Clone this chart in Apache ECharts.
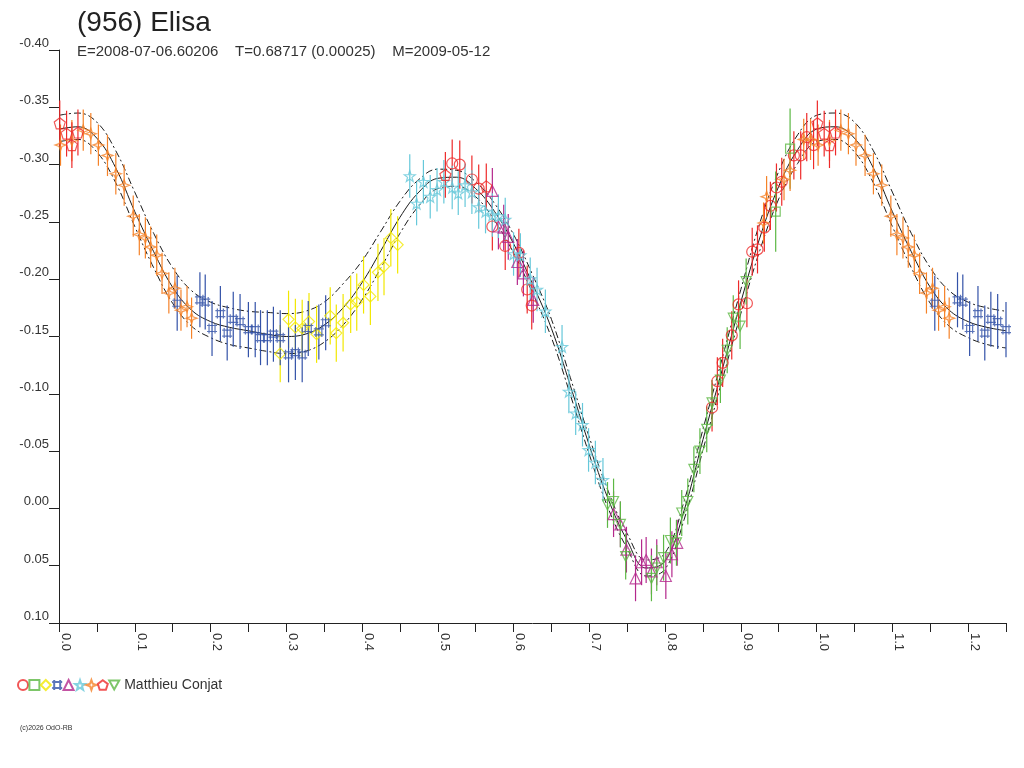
<!DOCTYPE html>
<html>
<head>
<meta charset="utf-8">
<script src="https://cdn.jsdelivr.net/npm/echarts@6/dist/echarts.min.js"></script>
<style>html,body{margin:0;padding:0;background:#fff}#c{width:1024px;height:768px}</style>
</head>
<body>
<div id="c"></div>
<script>
// Fit curve phases and magnitudes
const curvePhase = [0,0.025,0.05,0.075,0.1,0.125,0.15,0.175,0.2,0.225,0.25,0.275,0.3,0.325,0.35,0.375,0.4,0.425,0.45,0.475,0.5,0.525,0.55,0.575,0.6,0.625,0.65,0.675,0.7,0.725,0.75,0.775,0.8,0.825,0.85,0.875,0.9,0.925,0.95,0.975,1.0,1.025,1.05,1.075,1.1,1.125,1.15,1.175,1.2,1.225,1.25];
const fitMid = [-0.331,-0.333,-0.323,-0.297,-0.259,-0.224,-0.193,-0.173,-0.163,-0.158,-0.155,-0.152,-0.150,-0.152,-0.160,-0.175,-0.197,-0.225,-0.254,-0.276,-0.288,-0.289,-0.279,-0.259,-0.231,-0.196,-0.157,-0.107,-0.055,-0.008,0.028,0.052,0.046,0.002,-0.060,-0.120,-0.180,-0.236,-0.281,-0.313,-0.331,-0.333,-0.323,-0.297,-0.259,-0.224,-0.193,-0.173,-0.163,-0.158,-0.155];
const fitUpper = [-0.343,-0.345,-0.337,-0.312,-0.276,-0.240,-0.210,-0.190,-0.180,-0.175,-0.172,-0.171,-0.170,-0.172,-0.180,-0.196,-0.216,-0.242,-0.268,-0.287,-0.296,-0.295,-0.285,-0.266,-0.239,-0.204,-0.165,-0.114,-0.062,-0.015,0.022,0.045,0.039,-0.006,-0.069,-0.130,-0.191,-0.249,-0.294,-0.326,-0.343,-0.345,-0.337,-0.312,-0.276,-0.240,-0.210,-0.190,-0.180,-0.175,-0.172];
const fitLower = [-0.320,-0.322,-0.311,-0.284,-0.246,-0.210,-0.179,-0.159,-0.149,-0.143,-0.140,-0.137,-0.135,-0.137,-0.145,-0.160,-0.182,-0.210,-0.240,-0.264,-0.279,-0.281,-0.272,-0.251,-0.223,-0.188,-0.149,-0.099,-0.047,0.000,0.035,0.059,0.053,0.010,-0.051,-0.111,-0.170,-0.225,-0.270,-0.301,-0.320,-0.322,-0.311,-0.284,-0.246,-0.210,-0.179,-0.159,-0.149,-0.143,-0.140];

// Observation sessions: [phase, magnitude]
const redCircles = [[0.519,-0.301],[0.529,-0.300],[0.545,-0.287],[0.554,-0.279],[0.572,-0.246],[0.589,-0.229],[0.607,-0.223],[0.618,-0.191],[0.624,-0.177],[0.862,-0.088],[0.869,-0.111],[0.876,-0.127],[0.888,-0.151],[0.897,-0.178],[0.908,-0.179],[0.915,-0.224],[0.922,-0.226],[0.931,-0.245],[0.939,-0.264],[0.947,-0.280],[0.954,-0.285],[0.970,-0.308],[0.979,-0.308],[0.987,-0.324],[0.996,-0.317]];
const greenSquares = [[0.946,-0.259],[0.965,-0.314]];
const yellowDiamonds = [[0.292,-0.135],[0.303,-0.165],[0.312,-0.158],[0.321,-0.157],[0.330,-0.163],[0.340,-0.152],[0.358,-0.168],[0.366,-0.153],[0.375,-0.162],[0.385,-0.178],[0.393,-0.180],[0.402,-0.195],[0.411,-0.185],[0.421,-0.206],[0.429,-0.211],[0.438,-0.236],[0.447,-0.230]];
const blueQuads = [[0.156,-0.179],[0.186,-0.182],[0.193,-0.180],[0.202,-0.157],[0.213,-0.170],[0.222,-0.153],[0.230,-0.165],[0.239,-0.163],[0.250,-0.156],[0.259,-0.156],[0.266,-0.149],[0.275,-0.149],[0.283,-0.152],[0.292,-0.149],[0.303,-0.134],[0.312,-0.136],[0.321,-0.134],[0.329,-0.157],[0.343,-0.154],[0.352,-0.162]];
const purpleTriangles = [[0.572,-0.277],[0.580,-0.246],[0.587,-0.245],[0.593,-0.237],[0.605,-0.215],[0.613,-0.205],[0.626,-0.182],[0.732,0.005],[0.741,0.014],[0.749,0.036],[0.761,0.061],[0.769,0.047],[0.775,0.045],[0.782,0.055],[0.789,0.047],[0.801,0.059],[0.809,0.040],[0.816,0.030]];
const cyanStars = [[0.463,-0.290],[0.472,-0.266],[0.481,-0.285],[0.490,-0.272],[0.499,-0.278],[0.508,-0.285],[0.519,-0.280],[0.527,-0.275],[0.536,-0.282],[0.545,-0.276],[0.554,-0.263],[0.563,-0.259],[0.572,-0.256],[0.580,-0.255],[0.589,-0.252],[0.600,-0.222],[0.609,-0.221],[0.622,-0.200],[0.631,-0.191],[0.642,-0.172],[0.664,-0.141],[0.673,-0.102],[0.682,-0.083],[0.691,-0.073],[0.699,-0.051],[0.708,-0.040],[0.718,-0.025]];
const orangeStars = [[0.002,-0.317],[0.017,-0.321],[0.032,-0.330],[0.042,-0.327],[0.052,-0.317],[0.064,-0.308],[0.075,-0.292],[0.086,-0.282],[0.098,-0.255],[0.106,-0.239],[0.114,-0.236],[0.121,-0.228],[0.129,-0.221],[0.136,-0.205],[0.145,-0.188],[0.153,-0.192],[0.161,-0.173],[0.169,-0.176],[0.175,-0.166],[0.930,-0.249],[0.934,-0.272],[0.957,-0.287],[0.965,-0.295],[0.983,-0.322],[0.992,-0.322]];
const redPentagons = [[0.001,-0.336],[0.010,-0.327],[0.017,-0.317],[0.025,-0.328],[0.510,-0.291],[0.564,-0.281]];
const greenInvTriangles = [[0.724,-0.003],[0.732,-0.006],[0.741,0.014],[0.748,0.042],[0.782,0.061],[0.789,0.052],[0.798,0.043],[0.807,0.028],[0.815,0.030],[0.822,0.004],[0.830,-0.006],[0.838,-0.034],[0.846,-0.050],[0.855,-0.069],[0.862,-0.092],[0.873,-0.112],[0.882,-0.138],[0.890,-0.166],[0.899,-0.159],[0.907,-0.198]];

const sessionData = [redCircles, greenSquares, yellowDiamonds, blueQuads, purpleTriangles, cyanStars, orangeStars, redPentagons, greenInvTriangles];
const sessionErrors = [0.021, 0.035, 0.025, 0.024, 0.020, 0.019, 0.018, 0.020, 0.020];
const sessionColors = ['#ee2a2a','#5cb844','#f2e800','#3352a8','#b4288c','#66c8da','#f58228','#ee2a2a','#5cb844'];
const sessionSymbols = [
  'circle',
  'rect',
  'diamond',
  'path://M2,2L8,2L8,8L2,8ZM0,2L2,2M8,2L10,2M0,8L2,8M8,8L10,8M2,0L2,2M8,0L8,2M2,8L2,10M8,8L8,10',
  'triangle',
  'path://M5,0L6.2,3.6L10,3.7L7,6L8.1,9.7L5,7.5L1.9,9.7L3,6L0,3.7L3.8,3.6Z',
  'path://M5,0L6.3,3.7L10,5L6.3,6.3L5,10L3.7,6.3L0,5L3.7,3.7Z',
  'path://M5,0L10,3.7L8.1,9.6L1.9,9.6L0,3.7Z',
  'path://M0,0L10,0L5,9Z'
];
const sessionSizes = [11, 9, 11, 10, 11, 11, 11, 11, 10];
const sessionNames = ['s1','s2','s3','s4','s5','s6','s7','s8','Matthieu Conjat'];

const xTickLabels = ['0.0','0.1','0.2','0.3','0.4','0.5','0.6','0.7','0.8','0.9','1.0','1.1','1.2'];

function wrap(pts) {
  const out = pts.slice();
  pts.forEach(p => { if (p[0] <= 0.25) out.push([p[0] + 1, p[1]]); });
  return out;
}

const series = [];
const curveStyles = [
  {d: fitMid, type: 'solid'},
  {d: fitUpper, type: [7,3,2,3]},
  {d: fitLower, type: [7,3,2,3]}
];
curveStyles.forEach((c, i) => {
  series.push({
    name: 'fit' + i, type: 'line', smooth: 0.4, showSymbol: false, silent: true,
    data: curvePhase.map((p, k) => [p, c.d[k]]),
    lineStyle: {color: '#1a1a1a', width: 1, type: c.type}, z: 1
  });
});
sessionData.forEach((pts, i) => {
  const w = wrap(pts);
  const col = sessionColors[i];
  series.push({
    name: 'err' + i, type: 'custom', z: 2,
    data: w.map(p => [p[0], p[1] - sessionErrors[i], p[1] + sessionErrors[i]]),
    encode: {x: 0, y: [1, 2]},
    renderItem: function (params, api) {
      const a = api.coord([api.value(0), api.value(1)]);
      const b = api.coord([api.value(0), api.value(2)]);
      return {type: 'line', shape: {x1: a[0], y1: a[1], x2: b[0], y2: b[1]}, style: {stroke: col, lineWidth: 1.2}};
    }
  });
  series.push({
    name: sessionNames[i], type: 'scatter', z: 3,
    symbol: sessionSymbols[i], symbolSize: sessionSizes[i],
    data: w,
    itemStyle: {color: 'rgba(255,255,255,0)', borderColor: col, borderWidth: 1.2}
  });
});

const chart = echarts.init(document.getElementById('c'));
chart.setOption({
  animation: false,
  backgroundColor: '#fff',
  title: [
    {text: '(956) Elisa', left: 72, top: 4, textStyle: {fontFamily: 'Liberation Sans', fontSize: 28, fontWeight: 'normal', color: '#222'}},
    {text: 'E=2008-07-06.60206    T=0.68717 (0.00025)    M=2009-05-12', left: 72, top: 39, textStyle: {fontFamily: 'Liberation Sans', fontSize: 15, fontWeight: 'normal', color: '#333'}},
    {text: '(c)2026 OdO-RB', left: 15, top: 720, textStyle: {fontFamily: 'Liberation Sans', fontSize: 7, fontWeight: 'normal', color: '#333'}}
  ],
  legend: {
    left: 17, top: 678, padding: 0, itemWidth: 10, itemHeight: 10, itemGap: -0.6, selectedMode: false,
    data: sessionNames,
    formatter: n => (n === 'Matthieu Conjat' ? n : ''),
    textStyle: {fontFamily: 'Liberation Sans', fontSize: 14, color: '#333'}
  },
  grid: {left: 59, right: 18, top: 50, bottom: 145, containLabel: false},
  xAxis: {
    type: 'value', min: 0, max: 1.25, interval: 0.05,
    axisLine: {onZero: false, lineStyle: {color: '#222', width: 1}},
    axisTick: {length: 9, lineStyle: {color: '#222'}},
    splitLine: {show: false},
    axisLabel: {
      rotate: -90, margin: 10, verticalAlign: 'bottom', color: '#333', fontFamily: 'Liberation Sans', fontSize: 13,
      formatter: v => { const k = Math.round(v * 20); return k % 2 === 0 ? xTickLabels[k / 2] : ''; }
    }
  },
  yAxis: {
    type: 'value', inverse: true, min: -0.40, max: 0.10, interval: 0.05,
    axisLine: {show: true, onZero: false, lineStyle: {color: '#222', width: 1}},
    axisTick: {show: true, length: 10, lineStyle: {color: '#222'}},
    splitLine: {show: false},
    axisLabel: {
      margin: 10, verticalAlign: 'bottom', color: '#333', fontFamily: 'Liberation Sans', fontSize: 13,
      formatter: v => (Math.abs(v) < 1e-9 ? '0.00' : v.toFixed(2))
    }
  },
  series: series
});
</script>
</body>
</html>
